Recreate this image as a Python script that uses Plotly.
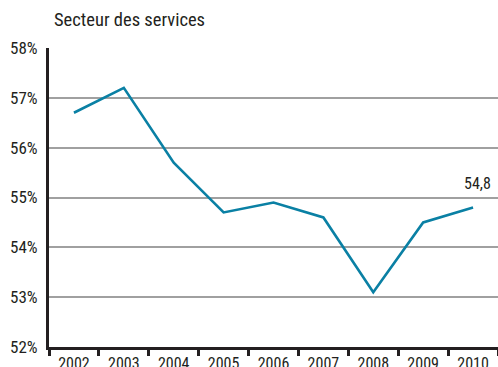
import plotly.graph_objects as go

# Part du secteur des services (%), 2002-2010
years = ["2002", "2003", "2004", "2005", "2006", "2007", "2008", "2009", "2010"]
share = [56.7, 57.2, 55.7, 54.7, 54.9, 54.6, 53.1, 54.5, 54.8]
y_ticks = [52, 53, 54, 55, 56, 57, 58]
y_tick_text = ["52%", "53%", "54%", "55%", "56%", "57%", "58%"]
title_text = "Secteur des services"
last_label = f"{share[-1]:.1f}".replace(".", ",")

FONT = "Liberation Sans Narrow, Roboto Condensed, Arial Narrow, sans-serif"
LINE = "#0a80a4"
INK = "#231f20"

fig = go.Figure()
fig.add_trace(go.Scatter(
    x=years, y=share, mode="lines",
    line=dict(color=LINE, width=2.6),
    hoverinfo="skip", showlegend=False,
))

fig.update_layout(
    width=498, height=367,
    margin=dict(l=49, r=0, t=48, b=20, autoexpand=False),
    paper_bgcolor="white", plot_bgcolor="white",
    font=dict(family=FONT, size=16, color=INK),
    xaxis=dict(
        type="category", range=[-0.5, 8.5], automargin=False,
        showgrid=False, showline=True, linecolor=INK, linewidth=3,
        ticks="outside", tickson="boundaries", ticklen=6, tickwidth=3,
        tickcolor=INK, tickfont=dict(family=FONT, size=16, color=INK),
        fixedrange=True,
    ),
    yaxis=dict(
        range=[52, 58], tickmode="array", tickvals=y_ticks, ticktext=y_tick_text,
        automargin=False,
        showgrid=True, gridcolor="#a0a0a0", gridwidth=1.6,
        showline=True, linecolor=INK, linewidth=3,
        zeroline=False, ticks="outside", ticklen=5, tickcolor="rgba(0,0,0,0)",
        tickfont=dict(family=FONT, size=17, color=INK),
        fixedrange=True,
    ),
    annotations=[
        dict(
            text=title_text, xref="paper", yref="paper",
            x=0, y=1, xshift=3, yshift=28, xanchor="left", yanchor="middle",
            showarrow=False, font=dict(family=FONT, size=18.5, color=INK),
        ),
        # value label for the latest year
        dict(
            text=last_label, xref="x", yref="y",
            x=len(years) - 1, y=share[-1], xshift=4, yshift=12,
            xanchor="center", yanchor="bottom",
            showarrow=False, font=dict(family=FONT, size=16, color=INK),
        ),
    ],
)

fig.write_html("out.html")
